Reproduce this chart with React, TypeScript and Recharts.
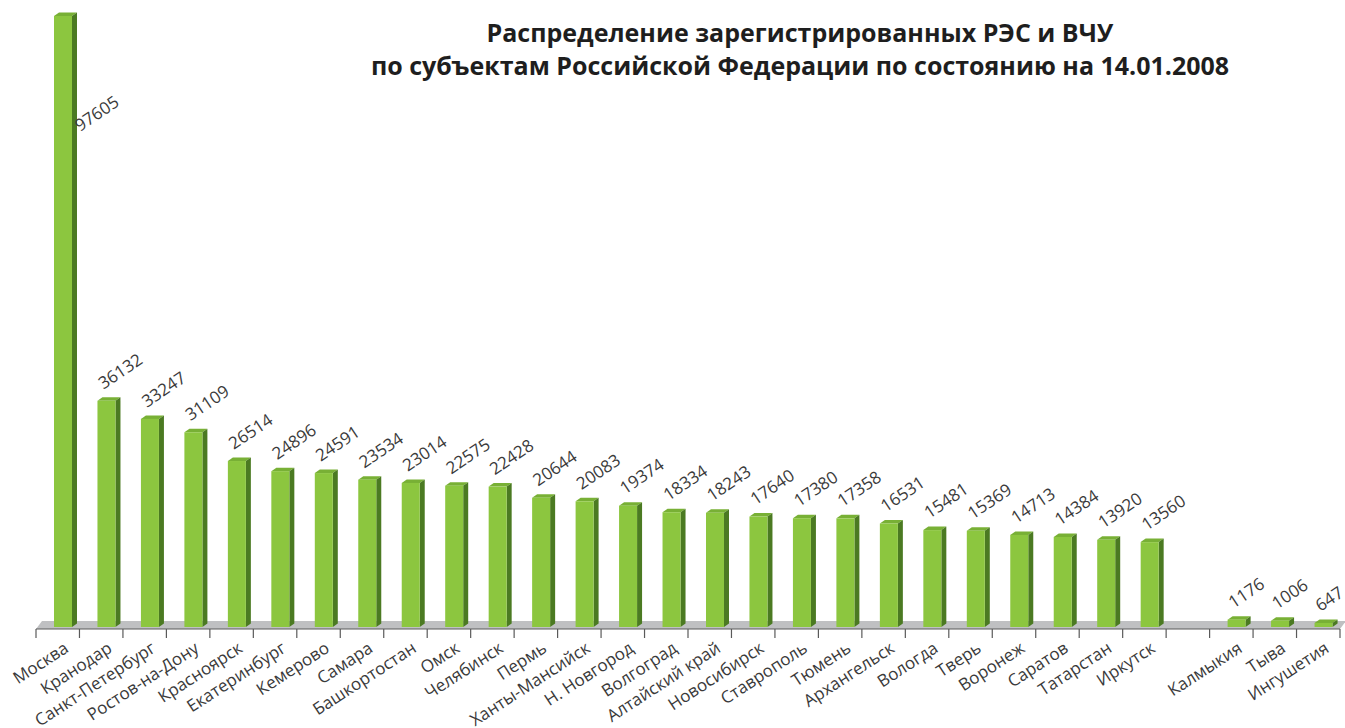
import { BarChart, Bar, XAxis, YAxis, ReferenceArea } from 'recharts'

const regions = [
  'Москва', 'Кранодар', 'Санкт-Петербург', 'Ростов-на-Дону', 'Красноярск', 'Екатеринбург',
  'Кемерово', 'Самара', 'Башкортостан', 'Омск', 'Челябинск', 'Пермь', 'Ханты-Мансийск',
  'Н. Новгород', 'Волгоград', 'Алтайский край', 'Новосибирск', 'Ставрополь', 'Тюмень',
  'Архангельск', 'Вологда', 'Тверь', 'Воронеж', 'Саратов', 'Татарстан', 'Иркутск', '',
  'Калмыкия', 'Тыва', 'Ингушетия',
]

const counts: (number | null)[] = [
  97605, 36132, 33247, 31109, 26514, 24896, 24591, 23534, 23014, 22575, 22428, 20644, 20083,
  19374, 18334, 18243, 17640, 17380, 17358, 16531, 15481, 15369, 14713, 14384, 13920, 13560, null,
  1176, 1006, 647,
]

const data = regions.map((name, i) => ({ name, value: counts[i] }))

const FRONT = '#8cc63f'
const SIDE = '#4b7a22'
const TOP = '#78b035'
const DX = 5
const DY = 3.5
const SHIFT = 5
const FONT = '"Open Sans", "DejaVu Sans", sans-serif'

function Bar3D(props: any) {
  const { x, y, width, height } = props
  if (height == null || height <= 0) return null
  const x0 = x + SHIFT
  const x1 = x0 + width
  const yb = y + height
  return (
    <g>
      <polygon points={`${x0},${y} ${x1},${y} ${x1 + DX},${y - DY} ${x0 + DX},${y - DY}`} fill={TOP} />
      <polygon points={`${x1},${y} ${x1 + DX},${y - DY} ${x1 + DX},${yb - DY} ${x1},${yb}`} fill={SIDE} />
      <rect x={x0} y={y} width={width} height={height} fill={FRONT} />
    </g>
  )
}

function ValueLabel(props: any) {
  const { x, y, width, value, index } = props
  if (value == null) return null
  // Moscow's bar is too tall: label sits beside it
  const lx = index === 0 ? x + SHIFT + width + 8 : x + SHIFT + 6
  const ly = index === 0 ? y + 116 : y - 11
  return (
    <text x={lx} y={ly} transform={`rotate(-34 ${lx} ${ly})`} fontSize={17} fill="#3a3a3a" fontFamily={FONT}>
      {value}
    </text>
  )
}

function CategoryTick(props: any) {
  const { x, y, payload } = props
  const tx = x + 12
  const ty = y + 16
  return (
    <text x={tx} y={ty} transform={`rotate(-33 ${tx} ${ty})`} textAnchor="end" fontSize={17} fill="#3a3a3a" fontFamily={FONT}>
      {payload.value}
    </text>
  )
}

function Floor(props: any) {
  const { x, y, width, height } = props
  const base = y + height
  const front = base + 2
  const back = base - 6
  const step = width / regions.length
  const ticks = regions.map((_, i) => x + i * step).concat([x + width])
  return (
    <g>
      <polygon points={`${x},${front} ${x + width},${front} ${x + width + 6},${back} ${x + 6},${back}`} fill="#bfc0c2" />
      <line x1={x} y1={front} x2={x + width} y2={front} stroke="#5a5a5a" strokeWidth={1.2} />
      {ticks.map((tx, i) => (
        <line key={i} x1={tx} y1={front} x2={tx} y2={front + 9} stroke="#5a5a5a" strokeWidth={1.2} />
      ))}
    </g>
  )
}

export default function App() {
  return (
    <div style={{ position: 'absolute', left: 0, top: 0, width: 1345, height: 728, background: '#fff' }}>
      <div
        style={{
          position: 'absolute', left: 300, top: 16, width: 1000, textAlign: 'center',
          fontFamily: FONT, fontWeight: 700, fontSize: 25, lineHeight: '33px', color: '#1e1e1e',
        }}
      >
        Распределение зарегистрированных РЭС и ВЧУ
        <br />
        по субъектам Российской Федерации по состоянию на 14.01.2008
      </div>
      <BarChart width={1345} height={728} data={data} margin={{ top: 16, right: 5, left: 36, bottom: 0 }}>
        <XAxis dataKey="name" height={101} interval={0} axisLine={false} tickLine={false} tick={<CategoryTick />} />
        <YAxis hide domain={[0, 97605]} />
        <ReferenceArea x1="Москва" x2="Ингушетия" y1={0} y2={97605} ifOverflow="visible" shape={<Floor />} />
        <Bar dataKey="value" barSize={18} shape={<Bar3D />} label={<ValueLabel />} isAnimationActive={false} />
      </BarChart>
    </div>
  )
}
